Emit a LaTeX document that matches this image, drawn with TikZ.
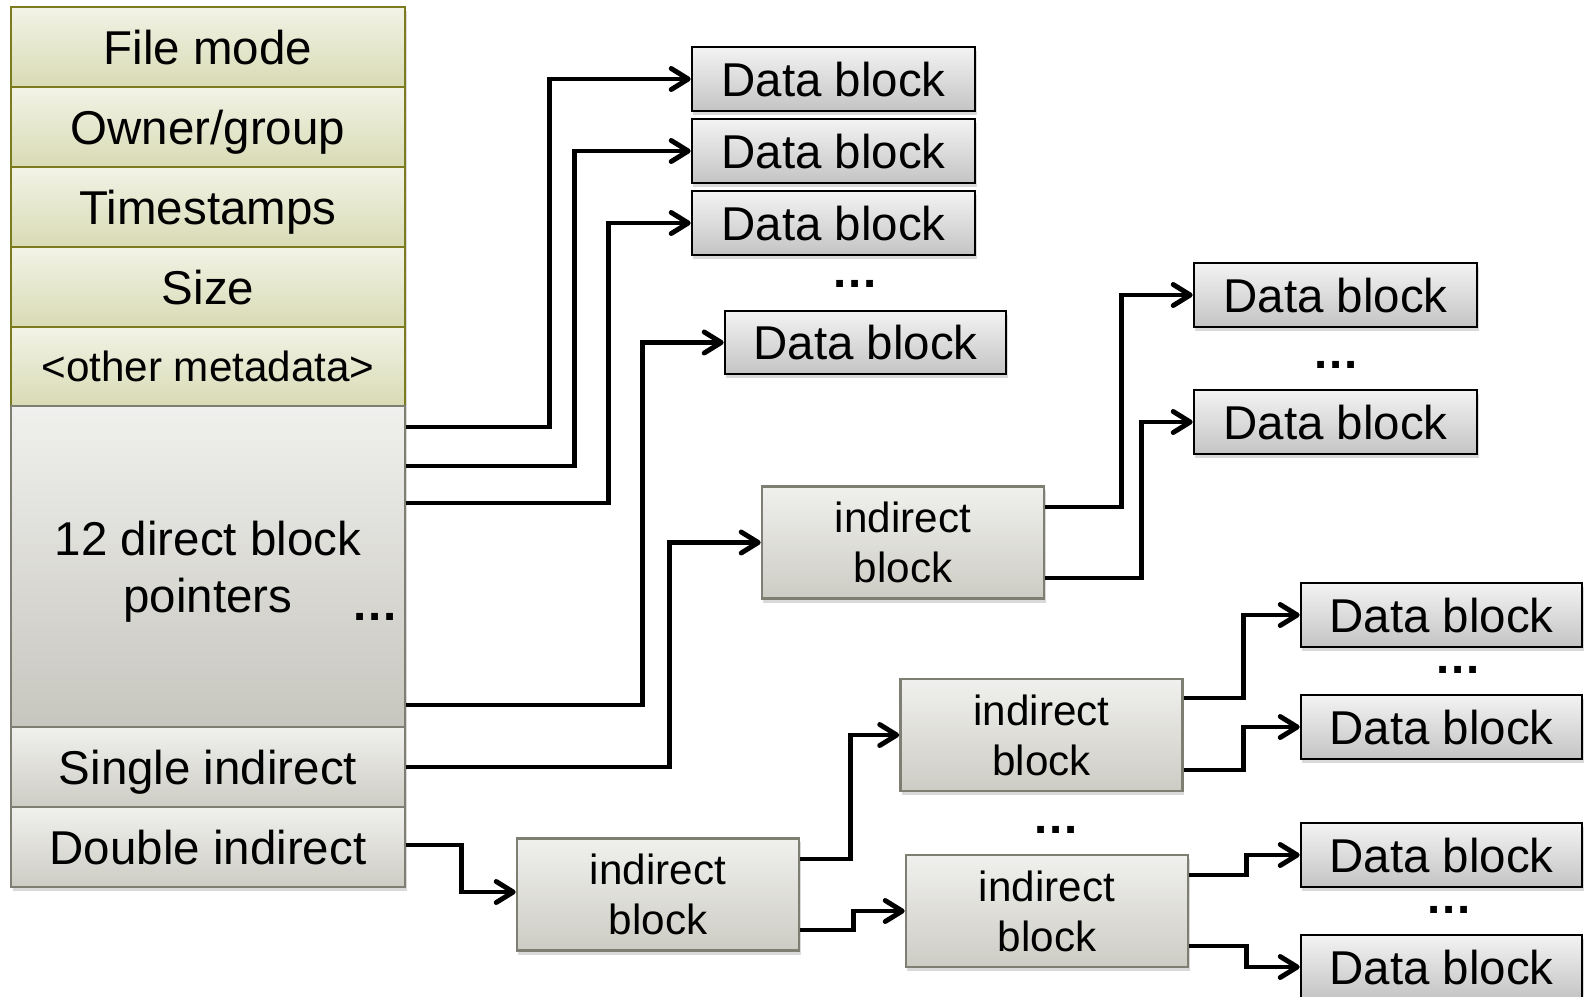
\documentclass[tikz,border=0pt]{standalone}
\usepackage{fontspec}
\setmainfont{Liberation Sans}
\usetikzlibrary{arrows.meta,shadows}
\definecolor{grtop}{HTML}{F2F3E6}
\definecolor{grbot}{HTML}{D8DBB4}
\definecolor{grline}{HTML}{7C7C1E}
\definecolor{gytop}{HTML}{F0F0EE}
\definecolor{gybot}{HTML}{CDCCC4}
\definecolor{gyline}{HTML}{7E7E72}
\definecolor{dbtop}{HTML}{F3F3F3}
\definecolor{dbbot}{HTML}{C4C4C4}
\newcommand\fbig{\fontsize{13.5}{16.2}\selectfont}
\newcommand\fsmall{\fontsize{12}{14.2}\selectfont}
\newcommand\threedots{\bfseries.\kern.04em.\kern.04em.}
\begin{document}
\begin{tikzpicture}[x=0.01cm,y=-0.01cm,
  shad/.style={drop shadow={shadow xshift=0.015cm,shadow yshift=-0.04cm,opacity=0.3}},
  cellbase/.style={draw=grline,line width=0.6pt,top color=grtop,bottom color=grbot,
    minimum width=3.94cm,minimum height=0.8cm,inner sep=0pt,font=\fbig},
  cell/.style={cellbase,text height=0.34cm,text depth=0pt},
  gcell/.style={cell,draw=gyline,top color=gytop,bottom color=gybot},
  db/.style={draw=black,line width=0.7pt,top color=dbtop,bottom color=dbbot,
    minimum width=2.83cm,minimum height=0.64cm,inner sep=0pt,
    text height=0.34cm,text depth=0pt,font=\fbig,shad},
  ib/.style={draw=gyline,line width=0.7pt,top color=gytop,bottom color=gybot,
    minimum width=2.82cm,minimum height=1.12cm,inner sep=0pt,align=center,
    font=\fsmall,shad},
  dots/.style={font=\fbig,inner sep=0pt},
  arr/.style={line width=1.4pt,-{Straight Barb[length=0.17cm,width=0.21cm,round]}}]
\useasboundingbox (0,0) rectangle (1590,996);
% shadow of the inode column
\path[fill=white,shad] (11,7) rectangle (405,887);
% inode column
\node[cell] (mode) at (208,47) {File mode};
\node[cell] (owner) at (208,127) {Owner/group};
\node[cell] (times) at (208,207) {Timestamps};
\node[cell] (size) at (208,287) {Size};
\node[cell,minimum height=0.79cm,font=\fsmall,text height=0.305cm] (other) at (208,366.5) {<other metadata>};
\node[cellbase,draw=gyline,top color=gytop,bottom color=gybot!97!black,minimum height=3.21cm,align=center,text depth=0pt] (direct) at (208,566.5) {12 direct block\\pointers};
\node[dots] (ddots) at (375,617) {\threedots};
\node[gcell] (single) at (208,767) {Single indirect};
\node[gcell] (double) at (208,847) {Double indirect};
% data blocks, first column
\node[db] (db1) at (833.5,79) {Data block};
\node[db] (db2) at (833.5,151) {Data block};
\node[db] (db3) at (833.5,223) {Data block};
\node[dots] (adots) at (855,284) {\threedots};
\node[db,minimum width=2.81cm,minimum height=0.63cm] (db4) at (865.5,342.5) {Data block};
% indirect blocks
\node[ib] (ib1) at (903,542.5) {indirect\\block};
\node[ib] (ib2) at (658,894.5) {indirect\\block};
\node[ib] (ib3) at (1041.5,735) {indirect\\block};
\node[dots] (idots) at (1056,830) {\threedots};
\node[ib] (ib4) at (1047,911) {indirect\\block};
% data blocks, right
\node[db] (db5) at (1335.5,295) {Data block};
\node[dots] (bdots) at (1336,365) {\threedots};
\node[db] (db6) at (1335.5,422) {Data block};
\node[db,minimum width=2.81cm] (db7) at (1441.5,615) {Data block};
\node[dots] (cdots) at (1458,670) {\threedots};
\node[db,minimum width=2.81cm] (db8) at (1441.5,727) {Data block};
\node[db,minimum width=2.81cm] (db9) at (1441.5,855) {Data block};
\node[dots] (edots) at (1449,910) {\threedots};
\node[db,minimum width=2.81cm] (db10) at (1441.5,967) {Data block};
% connectors
\draw[arr] (direct.east |- 0,427) -- ++(143,0) |- (db1);
\draw[arr] (direct.east |- 0,466) -- ++(168,0) |- (db2);
\draw[arr] (direct.east |- 0,503) -- ++(202,0) |- (db3);
\draw[arr] (direct.east |- 0,705) -- ++(236,0) |- (db4);
\draw[arr] (single.east) -- ++(263,0) |- (ib1);
\draw[arr] (double.east |- 0,845) -- ++(55,0) |- (ib2.west |- 0,892);
\draw[arr] (ib1.east |- 0,507) -- ++(76,0) |- (db5);
\draw[arr] (ib1.east |- 0,578) -- ++(96,0) |- (db6);
\draw[arr] (ib2.east |- 0,859) -- ++(50,0) |- (ib3);
\draw[arr] (ib2.east |- 0,930) -- ++(53,0) |- (ib4);
\draw[arr] (ib3.east |- 0,698) -- ++(60,0) |- (db7);
\draw[arr] (ib3.east |- 0,770) -- ++(60,0) |- (db8);
\draw[arr] (ib4.east |- 0,875) -- ++(57,0) |- (db9);
\draw[arr] (ib4.east |- 0,946) -- ++(57,0) |- (db10);
\end{tikzpicture}
\end{document}
